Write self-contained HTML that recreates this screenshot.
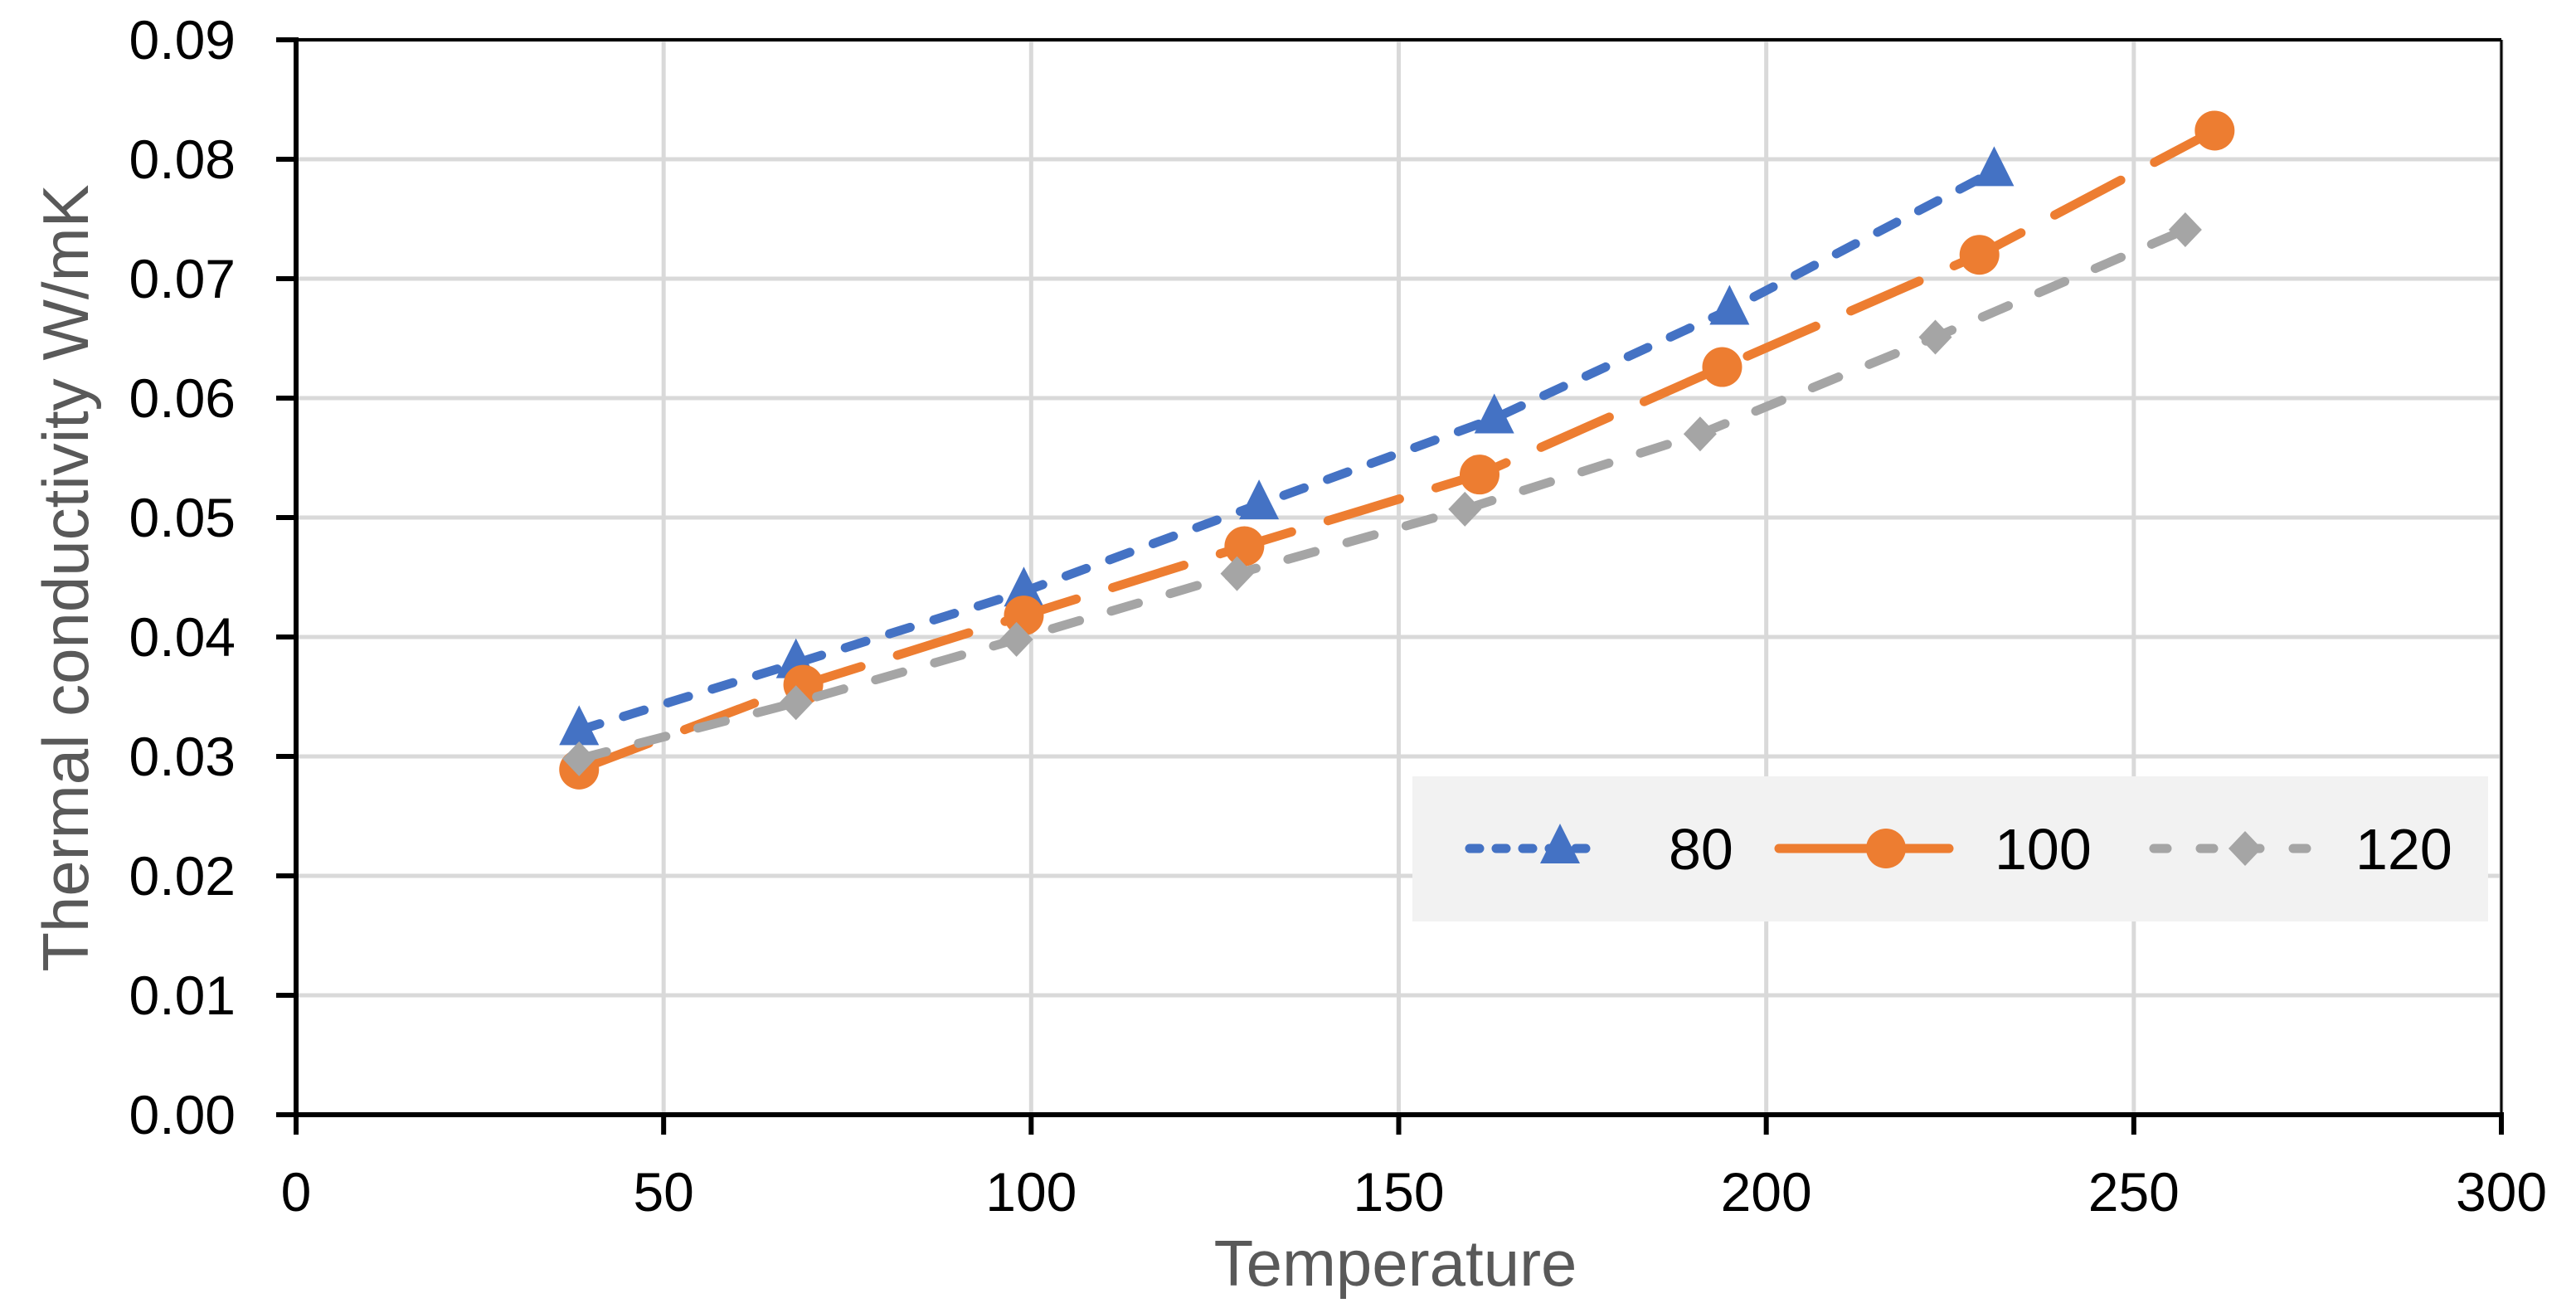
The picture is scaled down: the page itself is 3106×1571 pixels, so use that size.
<!DOCTYPE html>
<html><head><meta charset="utf-8"><style>
html,body{margin:0;padding:0;background:#fff;}
svg{display:block;font-family:"Liberation Sans",sans-serif;}
</style></head><body>
<svg id="chart" width="3106" height="1571" viewBox="0 0 3106 1571" xmlns="http://www.w3.org/2000/svg">
<g id="grid"></g>
<g id="axes"></g>
<g id="series"></g>
<g id="legend"></g>
</svg>
<script>
const xTicks = [0,50,100,150,200,250,300];
const yTicks = [0,0.01,0.02,0.03,0.04,0.05,0.06,0.07,0.08,0.09];
const yTickLabels = ["0.00","0.01","0.02","0.03","0.04","0.05","0.06","0.07","0.08","0.09"];
const seriesNames = ["80","100","120"];
const x80 = [38.5,68,99,131,163,195,231];
const y80 = [0.0322,0.0378,0.0438,0.0511,0.0583,0.0674,0.0790];
const x100 = [38.5,69,99,129,161,194,229,261];
const y100 = [0.0289,0.0360,0.0418,0.0476,0.0536,0.0626,0.0720,0.0824];
const x120 = [38.5,68,98,128,159,191,223,257];
const y120 = [0.0298,0.0345,0.0398,0.0453,0.0507,0.0570,0.0651,0.0741];

const L=357,R=3016,T=48,B=1344;
const sx=v=>L+(v-0)/(300-0)*(R-L);
const sy=v=>B-(v-0)/(0.09-0)*(B-T);
const NS="http://www.w3.org/2000/svg";
function mk(tag,attrs,parent){const e=document.createElementNS(NS,tag);for(const k in attrs)e.setAttribute(k,attrs[k]);parent.appendChild(e);return e;}
const grid=document.getElementById('grid'),axes=document.getElementById('axes'),ser=document.getElementById('series'),leg=document.getElementById('legend');

xTicks.forEach(v=>{if(v===0)return;const l=mk('line',{x1:sx(v),x2:sx(v),y1:T,y2:B,stroke:'#d9d9d9','stroke-width':5},grid);

});
yTicks.forEach(v=>{if(v===0)return;const l=mk('line',{x1:L,x2:R,y1:sy(v),y2:sy(v),stroke:'#d9d9d9','stroke-width':5},grid);

});

let a=mk('line',{x1:L,x2:L,y1:T-3,y2:B+3,stroke:'#000','stroke-width':6},axes);


a=mk('line',{x1:L-3,x2:R+3,y1:B,y2:B,stroke:'#000','stroke-width':6},axes);


a=mk('line',{x1:R,x2:R,y1:T,y2:B,stroke:'#000','stroke-width':3},axes);


a=mk('line',{x1:L,x2:R,y1:T,y2:T,stroke:'#000','stroke-width':4},axes);



yTicks.forEach((v,i)=>{
 const t=mk('line',{x1:L-24,x2:L,y1:sy(v),y2:sy(v),stroke:'#000','stroke-width':6},axes);
 
 
 const tx=mk('text',{x:284,y:sy(v)+23,'text-anchor':'end','font-size':66,fill:'#000'},axes);
 tx.textContent=yTickLabels[i];
 
 
});
xTicks.forEach(v=>{
 const t=mk('line',{x1:sx(v),x2:sx(v),y1:B,y2:B+24,stroke:'#000','stroke-width':6},axes);
 
 
 const tx=mk('text',{x:sx(v),y:1460,'text-anchor':'middle','font-size':66,fill:'#000'},axes);
 tx.textContent=String(v);
 
 
});
let tt=mk('text',{x:(L+R)/2-4,y:1550,'text-anchor':'middle','font-size':78,fill:'#595959'},axes);
tt.textContent='Temperature';


tt=mk('text',{x:0,y:0,'text-anchor':'middle','font-size':78,fill:'#595959',transform:'translate(106,697) rotate(-90)'},axes);
tt.textContent='Thermal conductivity W/mK';



const styles=[
 {c:'#4472c4',dash:'26,30',m:'tri'},
 {c:'#ed7d31',dash:'90,46',m:'circ'},
 {c:'#a5a5a5',dash:'34,40',m:'dia'}];
function marker(type,x,y,c,parent){
 let e;
 if(type==='tri') e=mk('polygon',{points:`${x},${y-30} ${x-24},${y+18} ${x+24},${y+18}`,fill:c},parent);
 else if(type==='circ') e=mk('circle',{cx:x,cy:y,r:24,fill:c},parent);
 else e=mk('polygon',{points:`${x},${y-21} ${x+20},${y} ${x},${y+21} ${x-20},${y}`,fill:c},parent);
 return e;
}
const xs=[x80,x100,x120], ys=[y80,y100,y120];
xs.forEach((xa,si)=>{
 const st=styles[si];
 const pts=xa.map((v,i)=>sx(v)+','+sy(ys[si][i])).join(' ');
 const pl=mk('polyline',{points:pts,fill:'none',stroke:st.c,'stroke-width':11,'stroke-dasharray':st.dash,'stroke-linecap':'round','stroke-linejoin':'round'},ser);
 
 
 xa.forEach((v,i)=>{
  const m=marker(st.m,sx(v),sy(ys[si][i]),st.c,ser);
  
  
 });
});

const bg=mk('rect',{x:1703,y:936,width:1297,height:175,fill:'#f2f2f2'},leg);


const lx=[[1772,1930,1881,2012],[2145,2350,2274,2405],[2597,2785,2707,2840]];
lx.forEach((p,i)=>{
 const st=styles[i];
 const g=mk('g',{},leg);
 
 
 mk('line',{x1:p[0],x2:p[1],y1:1023,y2:1023,stroke:st.c,'stroke-width':11,'stroke-dasharray':i===1?'0':(i===0?'12,20':'16,40'),'stroke-linecap':'round'},g);
 marker(st.m,p[2],1023,st.c,g);
 const t=mk('text',{x:p[3],y:1048,'font-size':70,fill:'#000'},g);
 t.textContent=seriesNames[i];
});
</script>
</body></html>
